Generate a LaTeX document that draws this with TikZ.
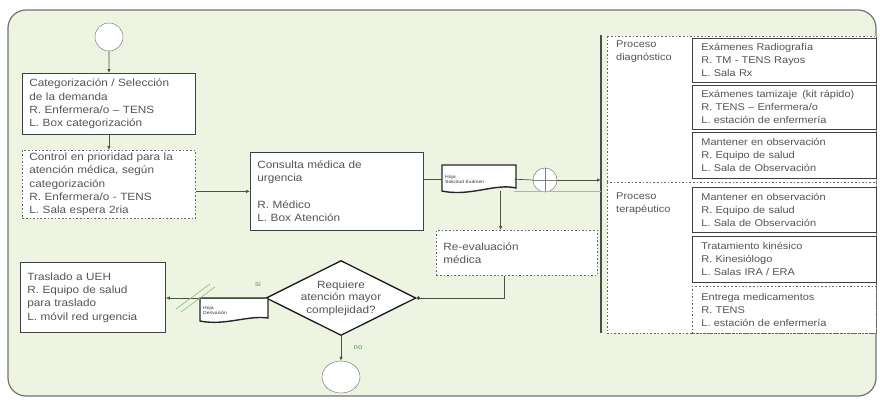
\documentclass[tikz,border=0pt]{standalone}
\usepackage{fontspec}
\setmainfont{Liberation Sans}[FakeStretch=1.12]
\usetikzlibrary{shapes.geometric,arrows.meta,calc}
\definecolor{bg}{HTML}{EEF4E2}
\definecolor{txt}{HTML}{555555}
\definecolor{ln}{HTML}{4A5442}
\definecolor{grn}{HTML}{5E9A4A}
\newcommand{\bodyfont}{\fontsize{10.5}{13.3}\selectfont}
\newcommand{\rfont}{\fontsize{9.8}{13}\selectfont}
\begin{document}
\begin{tikzpicture}[x=1pt,y=-1pt,
  box/.style={rectangle, draw=black!75, line width=0.8pt, fill=white, anchor=north west,
    align=left, inner xsep=7pt, inner ysep=2pt, font=\bodyfont, text=txt},
  dbox/.style={box, dash pattern=on 1.6pt off 2pt, draw=black!60},
  rbox/.style={box, inner xsep=9pt, font=\rfont},
  conn/.style={draw=ln, line width=0.7pt},
  arr/.style={conn, -{Latex[length=4pt,width=3.5pt]}},
  dotarr/.style={conn, -{Circle[length=3.5pt]}},
  doctxt/.style={anchor=north west, align=left, inner xsep=3pt, inner ysep=1pt,
    font=\fontsize{4.5}{5.5}\selectfont, text=black!80},
  lbl/.style={font=\fontsize{7}{8}\selectfont, text=grn},
  grp/.style={draw=black!60, dash pattern=on 1.6pt off 2pt, fill=white, line width=0.8pt}]
\useasboundingbox (0,0) rectangle (880,400);
\fill[white] (0,0) rectangle (880,400);
\draw[draw=black!55, line width=1.2pt, fill=bg, rounded corners=18pt] (8,10) rectangle (876,396);

% left column
\node[circle, draw=black!60, fill=white, minimum size=28pt, inner sep=0pt] (start) at (109,37) {};
\node[box, text width=159pt, minimum height=61pt] (b1) at (22,73)
  {Categorización / Selección\\de la demanda\\R. Enfermera/o – TENS\\L. Box categorización};
\node[dbox, text width=159pt, minimum height=68pt] (b2) at (22,150)
  {Control en prioridad para la\\atención médica, según\\categorización\\R. Enfermera/o - TENS\\L. Sala espera 2ria};
\node[box, text width=159pt, minimum height=78pt] (b3) at (250,152)
  {Consulta médica de\\urgencia\\[13.3pt]R. Médico\\L. Box Atención};

% document 1
\draw[line width=1.4pt, draw=black!85, fill=white] (442,165) -- (516,165) -- (516,188)
  .. controls (495,183) and (470,197) .. (442,191) -- cycle;
\node[doctxt, text width=66pt, minimum height=24pt] (hoja1) at (442,167) {Hoja\\Solicitud Exámen};

\node[circle, draw=black!60, fill=white, minimum width=24pt, inner sep=0pt] (cp) at (545,180) {};
\draw[black!50, line width=0.5pt] (cp.north) -- (cp.south) (cp.west) -- (cp.east);

\node[dbox, text width=147pt, minimum height=45pt] (re) at (436,230) {Re-evaluación\\médica};

\node[diamond, draw=black!90, line width=1.3pt, fill=white, aspect=2, inner sep=0pt,
  minimum width=148pt, minimum height=74pt, align=center,
  font=\fontsize{10.5}{12.5}\selectfont, text=txt] (dia) at (341,298)
  {Requiere\\atención mayor\\complejidad?};

\node[box, text width=131pt, minimum height=70pt] (tras) at (20,262)
  {Traslado a UEH\\R. Equipo de salud\\para traslado\\L. móvil red urgencia};

% document 2
\draw[line width=1.4pt, draw=black!85, fill=white] (200,298) -- (268,298) -- (268,318)
  .. controls (248,315) and (225,326) .. (200,321) -- cycle;
\node[doctxt, text width=60pt, minimum height=20pt] (hoja2) at (200,300) {Hoja\\Derivación};

\node[ellipse, draw=black!60, fill=white, minimum width=38pt, minimum height=32pt, inner sep=0pt] (end) at (341,377) {};

% right groups
\coordinate (vt) at (601,35);
\coordinate (vb) at (601,333);
\draw[grp] (607,36) rectangle (876,182);
\draw[grp] (607,182) rectangle (876,333);
\node[anchor=north west, align=left, font=\rfont, text=txt, inner sep=0pt] (pd) at (616,41) {Proceso\\diagnóstico};
\node[anchor=north west, align=left, font=\rfont, text=txt, inner sep=0pt] (pt) at (616,193) {Proceso\\terapéutico};

\node[rbox, text width=166pt, minimum height=44pt] (ra) at (692,38)
  {Exámenes Radiografía\\R. TM - TENS Rayos\\L. Sala Rx};
\node[rbox, text width=166pt, minimum height=44pt] (rb) at (692,85)
  {Exámenes tamizaje \,(kit rápido)\\R. TENS – Enfermera/o\\L. estación de enfermería};
\node[rbox, text width=166pt, minimum height=46pt] (rc) at (692,132)
  {Mantener en observación\\R. Equipo de salud\\L. Sala de Observación};
\node[rbox, text width=166pt, minimum height=45pt] (rd) at (692,187)
  {Mantener en observación\\R. Equipo de salud\\L. Sala de Observación};
\node[rbox, text width=166pt, minimum height=46pt] (rf) at (692,236)
  {Tratamiento kinésico\\R. Kinesiólogo\\L. Salas IRA / ERA};
\node[rbox, dash pattern=on 1.6pt off 2pt, draw=black!60, text width=166pt, minimum height=47pt] (rg) at (692,286)
  {Entrega medicamentos\\R. TENS\\L. estación de enfermería};

\draw[draw=black!70, line width=2pt] (vt) -- (vb);

% connectors
\draw[arr] (start) -- (b1);
\draw[arr] (b1) -- (b2);
\draw[arr] (b3.west -| b2.east) -- (b3.west);
\draw[conn] (b3.east |- hoja1.west) -- (hoja1.west);
\draw[conn] (hoja1.east) -- (cp.west);
\draw[arr] (cp.east) -- (cp.east -| vt);
\draw[draw=grn!60, line width=0.8pt] (hoja1.south east) -- (hoja1.south east -| vt);
\coordinate (hb) at ($(hoja1.south west)!0.81!(hoja1.south east)$);
\draw[arr] (hb) -- (hb |- re.north);
\coordinate (rbot) at ($(re.south west)+(68,0)$);
\draw[dotarr] (rbot) |- (dia.east);
\draw[arr] (dia.west) -- (dia.west -| tras.east);
\draw[arr] (dia.south) -- (end.north);
\draw[draw=grn!70, line width=0.6pt] (176,309) -- (210,284) (181,312) -- (215,287);

\node[lbl] (si) at (258,284) {si};
\node[lbl] (no) at (358,348) {no};
\end{tikzpicture}
\end{document}
